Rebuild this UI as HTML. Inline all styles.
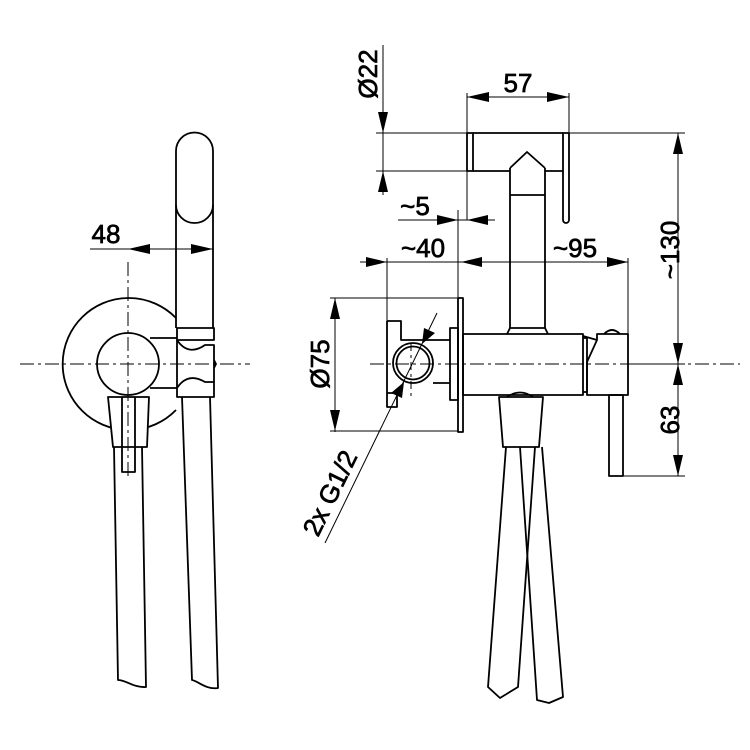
<!DOCTYPE html>
<html><head><meta charset="utf-8"><style>
html,body{margin:0;padding:0;background:#fff;}
svg{display:block;}
text{font-family:"Liberation Sans",Arial,sans-serif;font-size:26px;fill:#000;stroke:#000;stroke-width:0.7px;}
</style></head><body>
<svg width="750" height="750" viewBox="0 0 750 750" xmlns="http://www.w3.org/2000/svg">
<g fill="none" stroke="#000" stroke-width="1.8" stroke-linejoin="round">
<!-- LEFT VIEW -->
<path d="M176,318 A66,66 0 1 0 176,410" fill="#fff"/>
<path d="M176,328 L176,151 A18.5,18.5 0 0 1 213,151 L213,328"/>
<path d="M176,205 A18.5,18 0 0 0 213,205"/>
<path d="M150,338 L177,338 M150,388 L177,388"/>
<path d="M177,328 L214,328 L214,340 L177,340 Z"/>
<path d="M177,340 C185,352 195,352 205,345 L214,345 L214,382 L205,382 C195,376 185,376 177,388 L177,397 L214,397 L214,382"/>
<path d="M177,340 L177,388"/>
<path d="M214,360 L216,364 L214,368"/>
<circle cx="128" cy="364" r="31" fill="#fff"/>
<path d="M108,397 L149,397 L147,447 L113,447 Z" fill="#fff"/>
<path d="M122,397 L122,472 L135,472 L135,397"/>
<path d="M114,447 L118,680 C126,680 134,688 146,687 L142,447"/>
<path d="M182,397 L192,680 C198,681 206,690 218,688 L210,397"/>
<!-- RIGHT VIEW -->
<rect x="467" y="133" width="6" height="38"/>
<path d="M473,133 L563,133 M473,171 L510,171 M545,171 L563,171"/>
<path d="M563,133 L569,133 L569,220 A3,3 0 0 1 563,220 Z"/>
<path d="M510,168 L527,152 L545,168"/>
<path d="M510,168 L510,328 M545,168 L545,328 M510,195 L545,195"/>
<path d="M507,334 L510,328 L545,328 L548,334"/>
<rect x="463" y="334" width="120" height="61"/>
<path d="M583,338 L587,338 L587,392 L583,392"/>
<path d="M587,395 L587,362 L597,340 L597,334 L628,334 L628,395 Z"/>
<path d="M583,336 L597,340"/>
<path d="M604,334 Q612,326 620,334"/>
<rect x="609" y="395" width="14" height="81"/>
<path d="M499,397 L543,397 L539,447 L503,447 Z"/>
<path d="M507,397 Q520,388 533,397"/>
<path d="M506,447 L488,687 L500,698 L518,687 L535,447"/>
<path d="M520,447 L537,700 L549,703 L563,697 L542,447"/>
<rect x="458" y="298" width="5" height="134"/>
<rect x="450" y="328" width="8" height="72"/>
<path d="M387,321 L401,321 L401,340 L450,340 M450,383 L433,383 M387,321 L387,407 L397,407 L397,393 L387,393"/>
<circle cx="413" cy="363" r="20" fill="#fff"/>
<circle cx="413" cy="363" r="16.5"/>
</g>
<g fill="none" stroke="#000" stroke-width="1">
<path d="M20,364 L250,364" stroke-dasharray="14,4,3,4"/>
<path d="M128,262 L128,480" stroke-dasharray="14,4,3,4"/>
<path d="M370,364 L740,364" stroke-dasharray="14,4,3,4"/>
<path d="M411,343 L411,398" stroke-dasharray="8,4,3,4"/>
<path d="M90,249 L213,249"/>
<path d="M467,93 L467,220 M569,93 L569,133 M467,97 L569,97"/>
<path d="M383,45 L383,195 M376,133 L467,133 M376,171 L467,171"/>
<path d="M398,220 L495,220 M458,210 L458,298"/>
<path d="M360,262 L628,262 M387,258 L387,321 M628,258 L628,334"/>
<path d="M335,298 L335,432 M330,298 L458,298 M330,431 L458,431"/>
<path d="M569,133 L685,133 M628,364 L685,364 M623,476 L685,476 M678,133 L678,476"/>
<path d="M437,313 L325,543"/>
</g>
<g fill="#000">
<path d="M128,249 L150,244 L150,254 Z"/>
<path d="M213,249 L191,244 L191,254 Z"/>
<path d="M467,97 L489,92 L489,102 Z"/>
<path d="M569,97 L547,92 L547,102 Z"/>
<path d="M383,133 L378,112 L388,112 Z"/>
<path d="M383,171 L378,192 L388,192 Z"/>
<path d="M458,220 L437,215 L437,225 Z"/>
<path d="M467,220 L488,215 L488,225 Z"/>
<path d="M387,262 L366,257 L366,267 Z"/>
<path d="M461,262 L482,257 L482,267 Z"/>
<path d="M628,262 L607,257 L607,267 Z"/>
<path d="M335,298 L330,319 L340,319 Z"/>
<path d="M335,431 L330,410 L340,410 Z"/>
<path d="M678,133 L673,154 L683,154 Z"/>
<path d="M678,364 L673,343 L683,343 Z"/>
<path d="M678,364 L673,385 L683,385 Z"/>
<path d="M678,476 L673,455 L683,455 Z"/>
<path d="M422,344 L424,328 L435,333 Z"/>
<path d="M404,382 L402,398 L391,393 Z"/>
</g>
<text x="106" y="243" text-anchor="middle">48</text>
<text x="518" y="92" text-anchor="middle">57</text>
<text x="415" y="215" text-anchor="middle">~5</text>
<text x="423" y="257" text-anchor="middle">~40</text>
<text x="575" y="257" text-anchor="middle">~95</text>
<text transform="translate(377,74) rotate(-90)" text-anchor="middle">Ø22</text>
<text transform="translate(679,250) rotate(-90)" text-anchor="middle">~130</text>
<text transform="translate(679,420) rotate(-90)" text-anchor="middle">63</text>
<text transform="translate(329,364) rotate(-90)" text-anchor="middle">Ø75</text>
<text transform="translate(338,497) rotate(-64)" text-anchor="middle">2x G1/2</text>
</svg>
</body></html>
